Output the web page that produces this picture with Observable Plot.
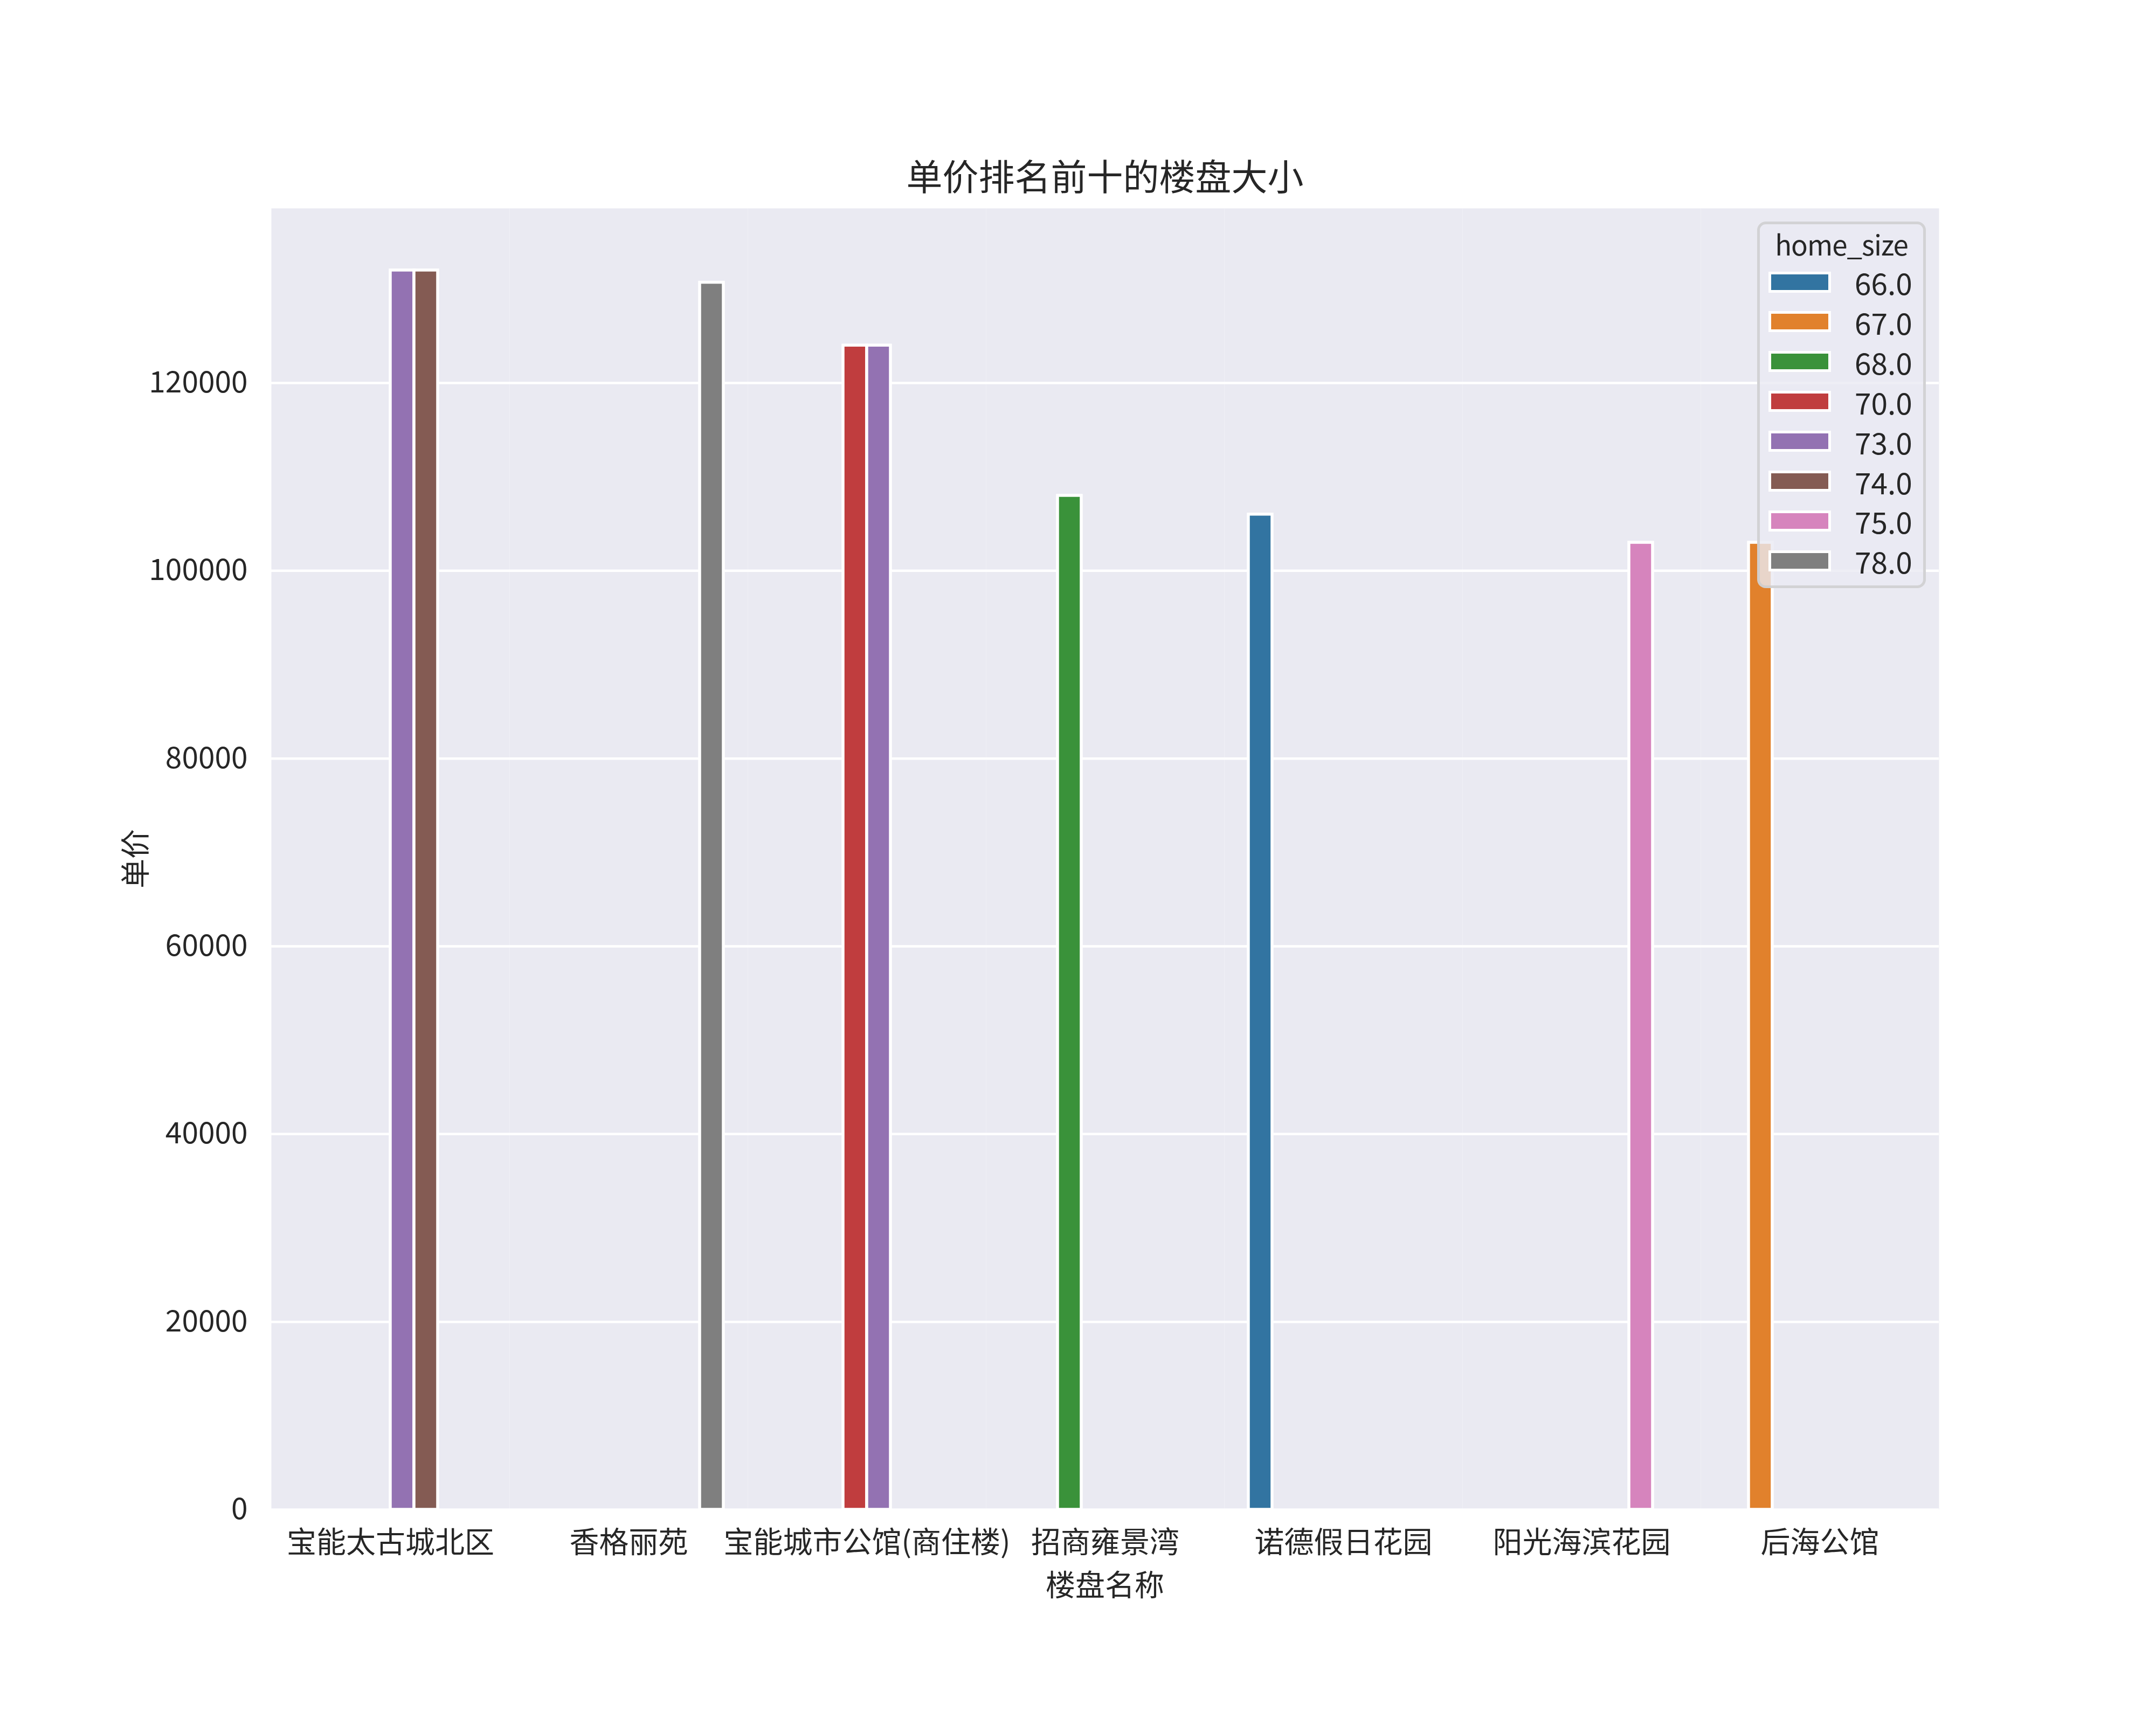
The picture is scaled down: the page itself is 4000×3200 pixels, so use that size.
<!DOCTYPE html>
<html>
<head>
<meta charset="utf-8">
<script src="https://cdn.jsdelivr.net/npm/d3@7"></script>
<script src="https://cdn.jsdelivr.net/npm/@observablehq/plot@0.6"></script>
<style>
  body { margin: 0; background: #ffffff; }
  #fig { position: relative; width: 4000px; height: 3200px; background: #ffffff;
         font-family: "Noto Sans CJK SC", sans-serif; color: #262626; }
  .abs { position: absolute; white-space: nowrap; line-height: 1; }
</style>
</head>
<body>
<div id="fig"></div>
<script>
// ---- data ----
const categories = ["宝能太古城北区", "香格丽苑", "宝能城市公馆(商住楼)", "招商雍景湾", "诺德假日花园", "阳光海滨花园", "后海公馆"];
const hueLevels = ["66.0", "67.0", "68.0", "70.0", "73.0", "74.0", "75.0", "78.0"];
const palette = ["#3274A1", "#E1812C", "#3A923A", "#C03D3E", "#9372B2", "#845B53", "#D684BD", "#7F7F7F"];
const barCategory = ["宝能太古城北区", "宝能太古城北区", "香格丽苑", "宝能城市公馆(商住楼)", "宝能城市公馆(商住楼)", "招商雍景湾", "诺德假日花园", "阳光海滨花园", "后海公馆"];
const barSize = ["73.0", "74.0", "78.0", "70.0", "73.0", "68.0", "66.0", "75.0", "67.0"];
const barPrice = [132000, 132000, 130700, 124000, 124000, 108000, 106000, 103000, 103000];
const yTicks = [0, 20000, 40000, 60000, 80000, 100000, 120000];
const titleText = "单价排名前十的楼盘大小";
const xLabel = "楼盘名称";
const yLabel = "单价";
const legendTitle = "home_size";

const data = barCategory.map((c, i) => ({name: c, size: barSize[i], price: barPrice[i]}));

const fig = document.getElementById("fig");

const plot = Plot.plot({
  width: 4000,
  height: 3200,
  marginLeft: 500,
  marginRight: 400,
  marginTop: 386,
  marginBottom: 400,
  style: {fontFamily: '"Noto Sans CJK SC", sans-serif', fontSize: "55px", color: "#262626", background: "transparent"},
  fx: {domain: categories, padding: 0, axis: "bottom", tickSize: 0, tickPadding: 40, label: null},
  x: {domain: hueLevels, paddingInner: 0, paddingOuter: 1, axis: null},
  y: {domain: [0, 138600], ticks: yTicks, tickSize: 0, tickPadding: 44, label: null, tickFormat: d => String(d)},
  color: {domain: hueLevels, range: palette},
  marks: [
    Plot.frame({fill: "#EAEAF2", stroke: null}),
    Plot.gridY(yTicks, {stroke: "#ffffff", strokeOpacity: 1, strokeWidth: 4.5}),
    Plot.barY(data, {fx: "name", x: "size", y: "price", fill: "size", stroke: "#ffffff", strokeWidth: 5.5, inset: 0, clip: true})
  ]
});
plot.style.position = "absolute";
plot.style.left = "0px";
plot.style.top = "0px";
fig.appendChild(plot);

function addText(txt, cx, cy, size, rotate) {
  const d = document.createElement("div");
  d.className = "abs";
  d.textContent = txt;
  d.style.fontSize = size + "px";
  d.style.left = cx + "px";
  d.style.top = cy + "px";
  d.style.transform = "translate(-50%,-50%)" + (rotate ? " rotate(" + rotate + "deg)" : "");
  fig.appendChild(d);
}
addText(titleText, 2050, 323, 67, 0);
addText(xLabel, 2050, 2936, 55, 0);
addText(yLabel, 247, 1593, 55, -90);

// ---- legend (inside axes, upper right) ----
const color = plot.scale("color");
const leg = document.createElement("div");
leg.style.position = "absolute";
leg.style.left = "3260px";
leg.style.top = "411px";
leg.style.width = "313px";
leg.style.height = "680px";
leg.style.boxSizing = "border-box";
leg.style.background = "rgba(234,234,242,0.8)";
leg.style.border = "5px solid rgba(204,204,204,0.8)";
leg.style.borderRadius = "16px";
fig.appendChild(leg);

const lt = document.createElement("div");
lt.className = "abs";
lt.textContent = legendTitle;
lt.style.fontSize = "51px";
lt.style.letterSpacing = "-1px";
lt.style.left = "50%";
lt.style.top = "36px";
lt.style.transform = "translate(-50%,-50%)";
leg.appendChild(lt);

color.domain.forEach((lvl, i) => {
  const cy = 107 + 73.9 * i;
  const sw = document.createElement("div");
  sw.style.position = "absolute";
  sw.style.left = "16px";
  sw.style.top = (cy - 19.5) + "px";
  sw.style.width = "116px";
  sw.style.height = "39px";
  sw.style.boxSizing = "border-box";
  sw.style.background = color.range[i];
  sw.style.border = "5.5px solid #ffffff";
  leg.appendChild(sw);
  const tx = document.createElement("div");
  tx.className = "abs";
  tx.textContent = lvl;
  tx.style.fontSize = "55px";
  tx.style.left = "176px";
  tx.style.top = cy + "px";
  tx.style.transform = "translate(0,-50%)";
  leg.appendChild(tx);
});
</script>
</body>
</html>
